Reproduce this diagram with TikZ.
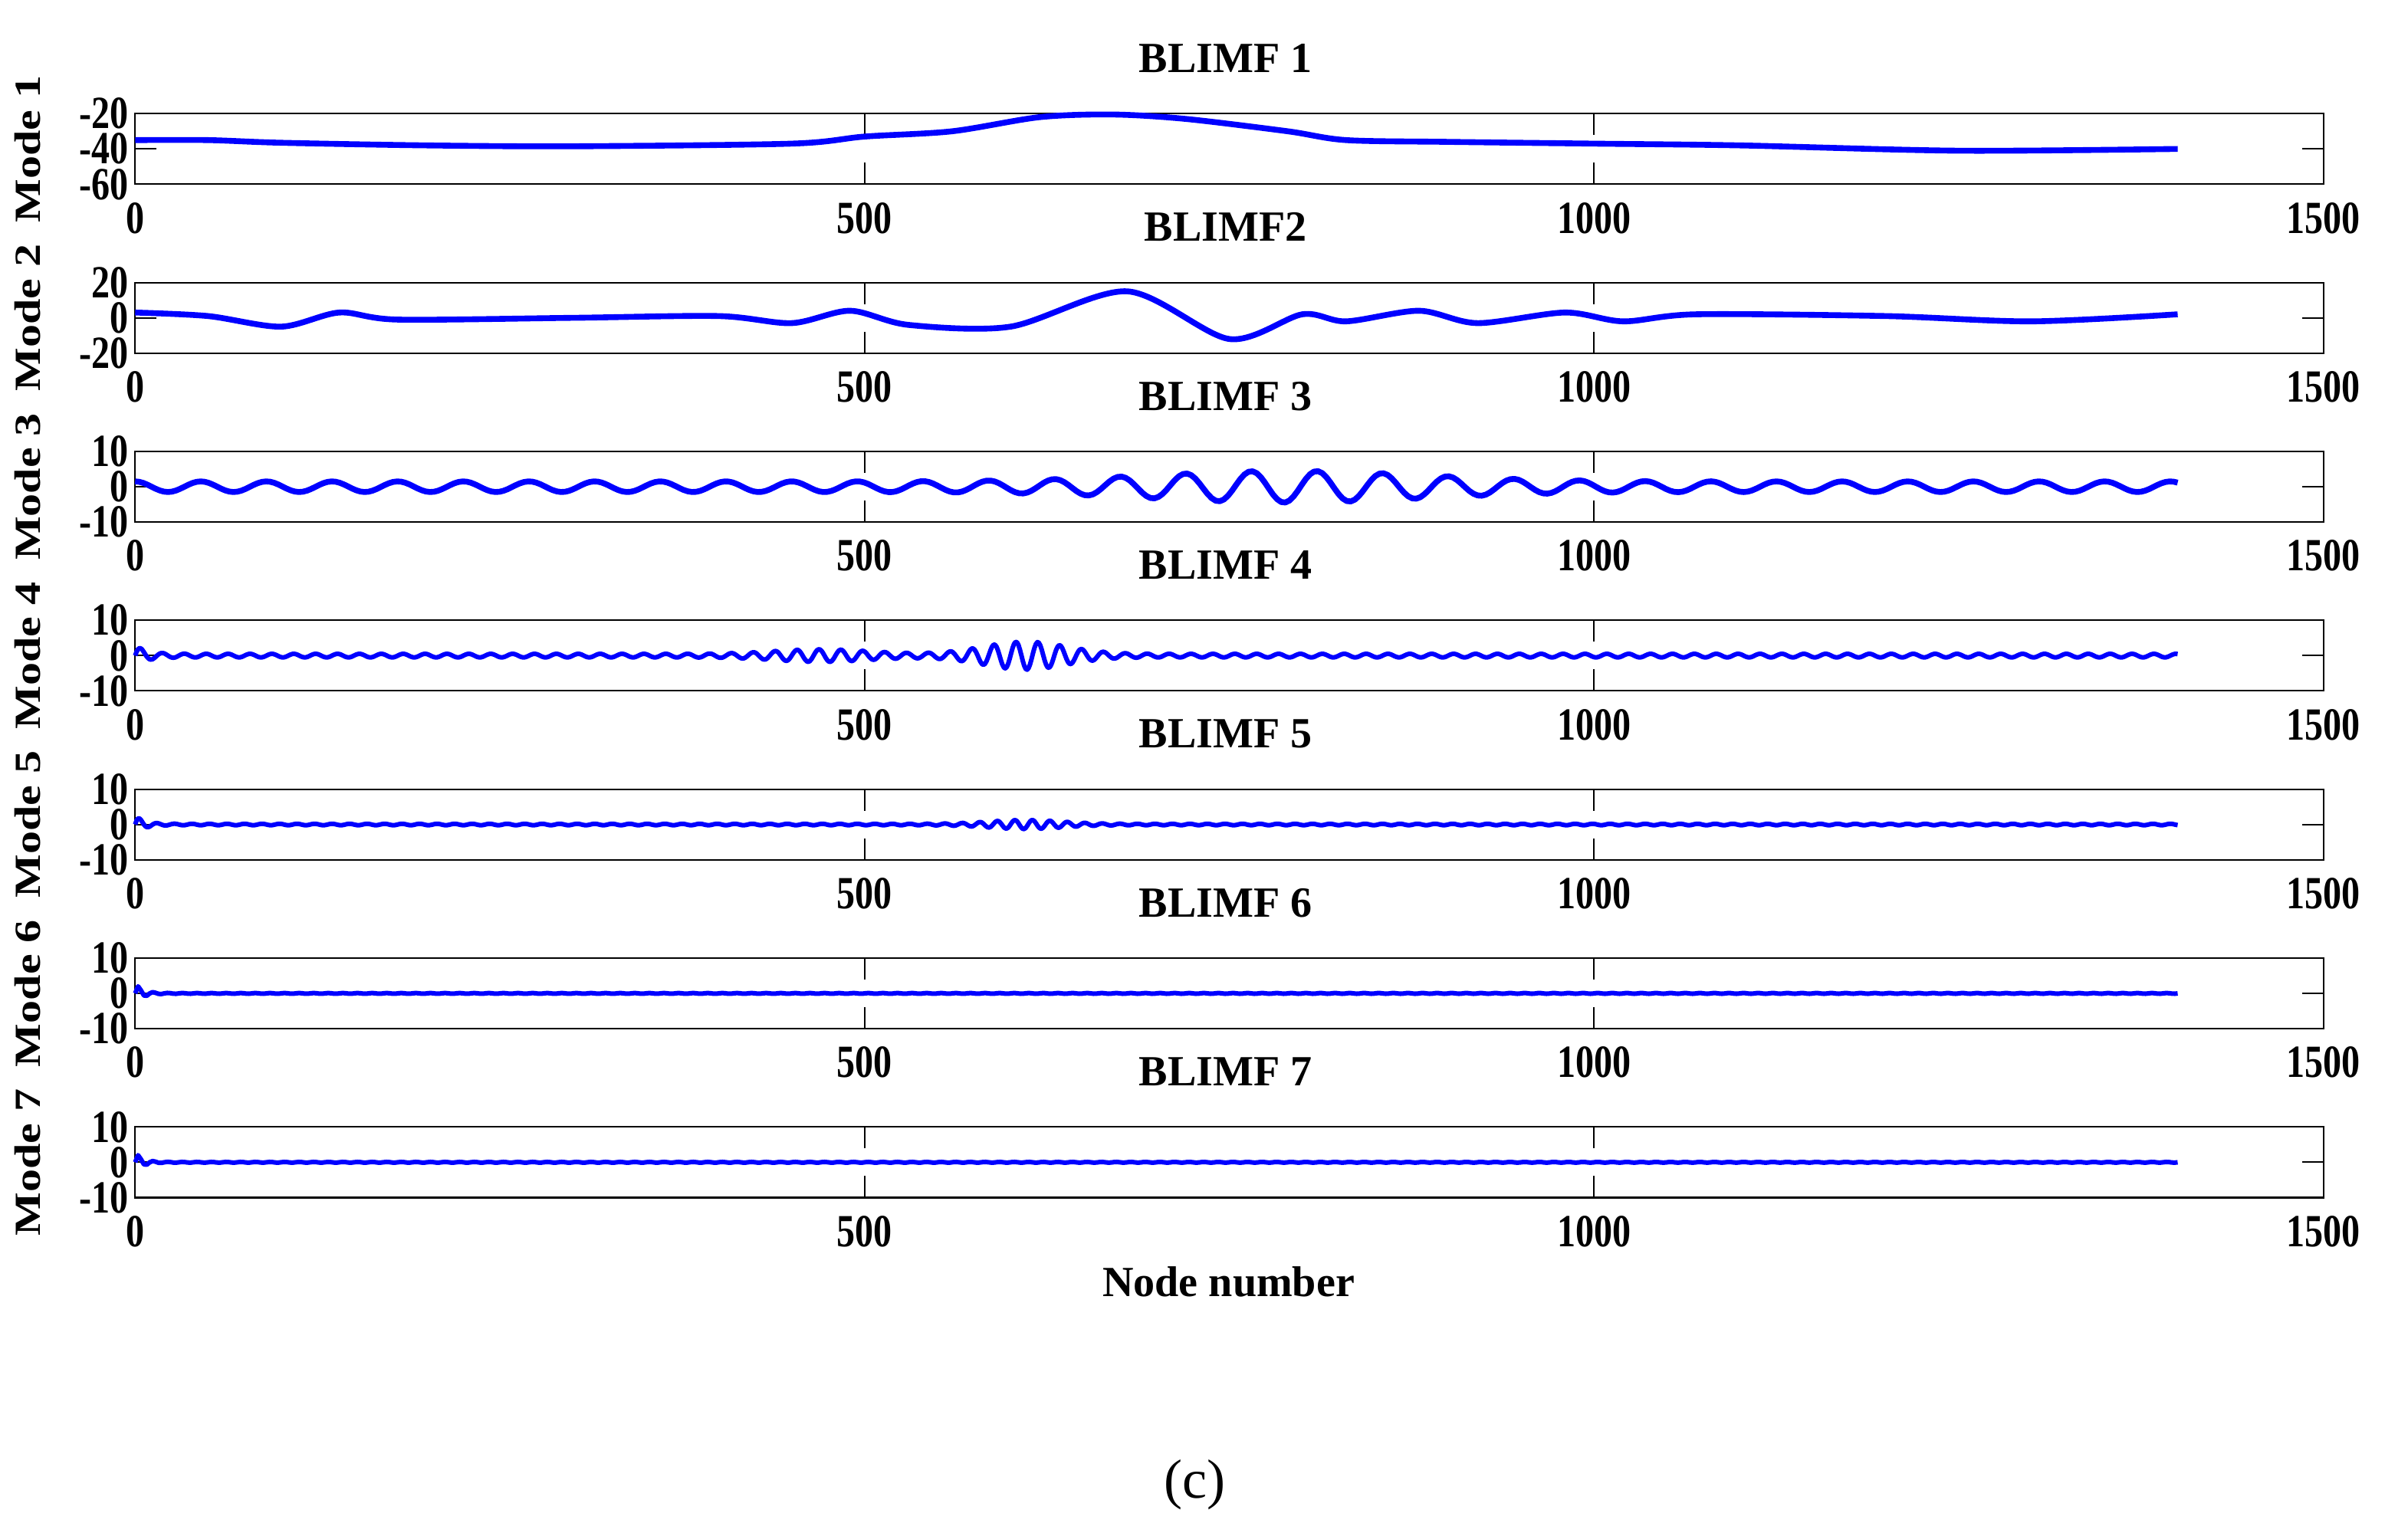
\documentclass[tikz,border=0pt]{standalone}
\usepackage{fontspec}
\setmainfont{Liberation Serif}
\begin{document}
\begin{tikzpicture}[x=1pt,y=-1pt,
  tl/.style={font=\bfseries\fontsize{30}{30}\selectfont, xscale=0.8, inner sep=0pt},
  ttl/.style={font=\bfseries\fontsize{28}{28}\selectfont, inner sep=0pt},
  sig/.style={blue, line width=3.8pt, line join=round},
  frame/.style={black, line width=1pt}]
\useasboundingbox (0,0) rectangle (1568,1000);
\foreach \k/\t/\a/\b/\c in {0/BLIMF 1/-20/-40/-60, 1/BLIMF2/20/0/-20, 2/BLIMF 3/10/0/-10, 3/BLIMF 4/10/0/-10, 4/BLIMF 5/10/0/-10, 5/BLIMF 6/10/0/-10, 6/BLIMF 7/10/0/-10}{
  \pgfmathsetmacro\yt{74+110*\k}
  \pgfmathsetmacro\ym{97+110*\k}
  \pgfmathsetmacro\yb{120+110*\k}
  \pgfmathtruncatemacro\mm{\k+1}
  \draw[frame] (88,\yt) rectangle (1513,\yb);
  \foreach \xx in {563,1038}{
    \draw[frame] (\xx,\yt) -- ++(0,14);
    \draw[frame] (\xx,\yb) -- ++(0,-14);}
  \draw[frame] (88,\ym) -- ++(14,0);
  \draw[frame] (1513,\ym) -- ++(-14,0);
  \node[ttl] (t\k) at (798,{38+110*\k}) {\t};
  \node[tl,anchor=east] (ya\k) at (84,\yt) {\a};
  \node[tl,anchor=east] (yb\k) at (84,\ym) {\b};
  \node[tl,anchor=east] (yc\k) at (84,\yb) {\c};
  \node[tl,rotate=90] (m\k) at (18,\ym) {Mode \mm};
  \foreach \xv/\xl in {88/0,563/500,1038/1000,1513/1500}
    \node[tl] (x\k\xl) at (\xv,{142+110*\k}) {\xl};
}
% panel 1
\begin{scope}[shift={(88,97)},x=0.95pt,y=1.15pt]
\draw[sig] plot[smooth] coordinates {(0,5)(50,5)(100,3.5)(200,2)(300,1.5)(450,3)(500,7)(560,10)(620,18)(670,19.5)(720,17)(790,10)(830,5)(900,4)(1000,3)(1100,2)(1250,-1)(1400,0)};
\end{scope}
% panel 2
\begin{scope}[shift={(88,207)},x=0.95pt,y=1.15pt]
\draw[sig] plot[smooth] coordinates {(0,3)(50,1)(100,-5)(140,3)(180,-1)(300,0)(400,1)(450,-3)(490,4)(530,-4)(600,-5)(680,15)(750,-12)(800,2)(830,-2)(880,4)(920,-3)(980,3)(1020,-2)(1070,2)(1200,1)(1300,-2)(1400,2)};
\end{scope}
% panel 3
\begin{scope}[shift={(88,317)},x=0.95pt,y=2.3pt]
\draw[sig] plot[domain=0:1400,samples=500] (\x,{(1.5+3*exp(-((\x-790)/130)^2))*sin(8*mod(\x,45)+90)});
\end{scope}
% panel 4
\begin{scope}[shift={(88,427)},x=0.95pt,y=2.3pt]
\draw[sig,line width=3pt] plot[domain=0:1400,samples=1400] (\x,{(0.5+3.5*exp(-((\x-610)/40)^2)+1.3*exp(-((\x-470)/45)^2)+2.5*exp(-\x/8))*sin(24*mod(\x,15))});
\end{scope}
% panel 5
\begin{scope}[shift={(88,537)},x=0.95pt,y=2.3pt]
\draw[sig,line width=3pt] plot[domain=0:1400,samples=1400] (\x,{(0.2+1.1*exp(-((\x-610)/35)^2)+2.5*exp(-\x/6))*sin(30*mod(\x,12))});
\end{scope}
% panel 6
\begin{scope}[shift={(88,647)},x=0.95pt,y=2.3pt]
\draw[sig,line width=3pt] plot[domain=0:1400,samples=700] (\x,{(0.1+3*exp(-\x/5))*sin(36*mod(\x,10))});
\end{scope}
% panel 7
\begin{scope}[shift={(88,757)},x=0.95pt,y=2.3pt]
\draw[sig,line width=3pt] plot[domain=0:1400,samples=700] (\x,{(0.1+3*exp(-\x/5))*sin(36*mod(\x,10))});
\end{scope}
\node[ttl] (xl) at (800,835) {Node number};
\node[font=\fontsize{36}{36}\selectfont] (cap) at (778,967) {(c)};
\end{tikzpicture}
\end{document}
